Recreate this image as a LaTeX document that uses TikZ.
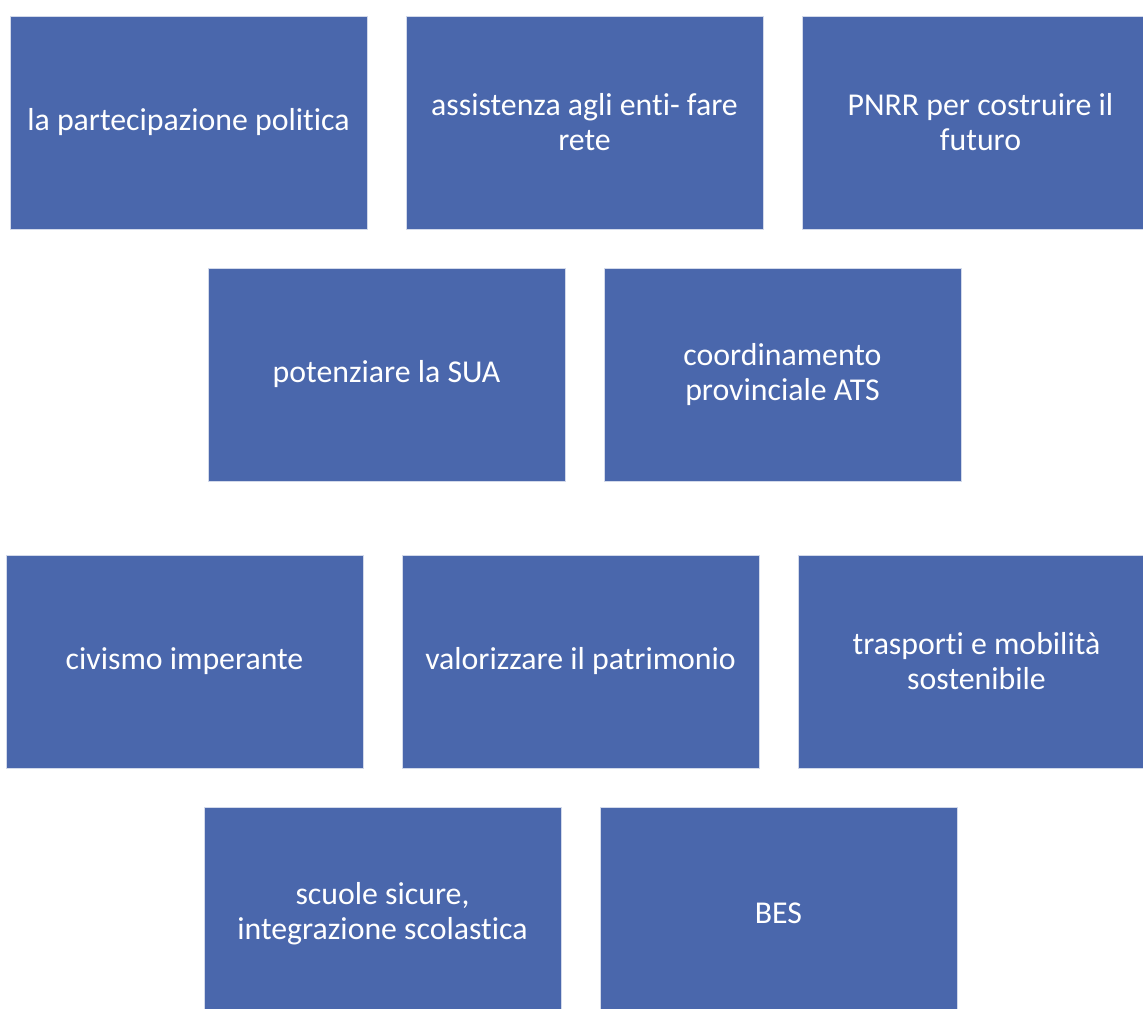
\documentclass[tikz,border=0pt]{standalone}
\usepackage{fontspec}
\setmainfont{Carlito}[Ligatures=NoCommon]
\usepackage{xcolor}
\usetikzlibrary{positioning}
\definecolor{tileblue}{RGB}{74,103,172}

\begin{document}
\begin{tikzpicture}[
  x=1pt, y=1pt,
  font=\fontsize{31.8}{35}\selectfont,
  node distance=39pt,
  tile/.style={fill=tileblue, draw=white!75!tileblue, line width=0.4pt, text=white, align=center,
    minimum width=357pt, minimum height=213pt, inner sep=0pt, outer sep=0pt}
]
\clip (0,0) rectangle (1143,-1009);
% ---------------- upper block ----------------
\node[tile] (part) at (188.5,-122.5) {la partecipazione politica};
\node[tile, right=of part] (enti) {assistenza agli enti- fare\\rete};
\node[tile, right=of enti] (pnrr) {PNRR per costruire il\\futuro};
\node[tile] (sua) at (386.5,-374.5) {potenziare la SUA};
\node[tile, right=of sua] (ats) {coordinamento\\provinciale ATS};

% ---------------- lower block ----------------
\node[tile] (civ) at (184.5,-661.5) {civismo imperante};
\node[tile, right=of civ] (patr) {valorizzare il patrimonio};
\node[tile, right=of patr] (mob) {trasporti e mobilità\\sostenibile};
\node[tile] (scuole) at (382.5,-913.5) {scuole sicure,\\integrazione scolastica};
\node[tile, right=of scuole] (bes) {BES};
\end{tikzpicture}
\end{document}
